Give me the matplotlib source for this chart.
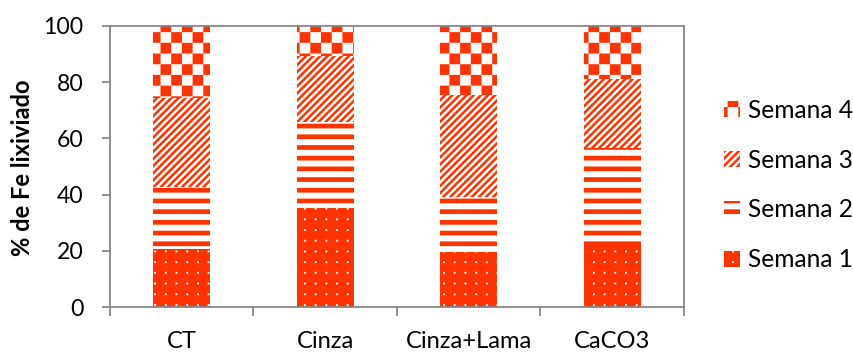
import numpy as np
import matplotlib
matplotlib.use('Agg')
import matplotlib.pyplot as plt
from matplotlib import hatch as mhatch
from matplotlib.path import Path
from matplotlib.patches import Patch

# ---------------- data ----------------
categories = ['CT', 'Cinza', 'Cinza+Lama', 'CaCO3']
series_names = ['Semana 1', 'Semana 2', 'Semana 3', 'Semana 4']
semana1 = [20.5, 35.1, 19.5, 22.1]
semana2 = [22.3, 30.9, 19.8, 34.6]
semana3 = [31.5, 23.4, 36.1, 24.3]
semana4 = [25.7, 10.6, 24.6, 19.0]
y_ticks = [0, 20, 40, 60, 80, 100]
y_label = '% de Fe lixiviado'

# ---------------- custom hatch patterns ----------------
DPI = 107
N = 10      # repeats per hatch tile (tile = DPI pixels)
M = 15      # diagonal stripes per tile


def _rect(x0, y0, x1, y1):
    return [(x0, y0), (x1, y0), (x1, y1), (x0, y1)]


class _PolyHatch(mhatch.HatchPatternBase):
    char = ''

    def __init__(self, hatch, density):
        self.polys = self.make() if (self.char and self.char in hatch) else []
        self.num_vertices = 5 * len(self.polys)

    def make(self):
        return []

    def set_vertices_and_codes(self, vertices, codes):
        for i, p in enumerate(self.polys):
            vertices[5 * i:5 * i + 4] = p
            vertices[5 * i + 4] = p[0]
            codes[5 * i] = Path.MOVETO
            codes[5 * i + 1:5 * i + 4] = Path.LINETO
            codes[5 * i + 4] = Path.CLOSEPOLY


class DotsHatch(_PolyHatch):
    char = '.'

    def make(self):
        s = 1.0 / N
        d = 0.018
        out = []
        for i in range(N):
            for j in range(N):
                cx, cy = (i + 0.5) * s, (j + 0.5) * s
                out.append(_rect(cx - d / 2, cy - d / 2, cx + d / 2, cy + d / 2))
        return out


class HStripeHatch(_PolyHatch):
    char = '-'

    def make(self):
        s = 1.0 / N
        t = 0.044
        return [_rect(0, j * s, 1, j * s + t) for j in range(N)]


class DiagHatch(_PolyHatch):
    char = '/'

    def make(self):
        w = 0.5 / M
        out = []
        for k in range(-M - 1, M + 1):
            c = k / M
            out.append([(0, c), (1, 1 + c), (1, 1 + c + w), (0, c + w)])
        return out


class CheckerHatch(_PolyHatch):
    char = 'x'

    def make(self):
        s = 1.0 / N
        return [_rect(i * s, j * s, (i + 1) * s, (j + 1) * s)
                for i in range(N) for j in range(N) if (i + j) % 2 == 0]


mhatch._hatch_types[:] = [DotsHatch, HStripeHatch, DiagHatch, CheckerHatch]

# ---------------- style ----------------
plt.rcParams['font.family'] = ['Lato', 'DejaVu Sans']
plt.rcParams['hatch.linewidth'] = 0.01
RED = '#FF3300'
AXC = '#868686'
styles = [dict(facecolor=RED, edgecolor='white', hatch='.'),
          dict(facecolor='white', edgecolor=RED, hatch='-'),
          dict(facecolor='white', edgecolor=RED, hatch='/'),
          dict(facecolor='white', edgecolor=RED, hatch='x')]

W, H = 853, 354
fig = plt.figure(figsize=(W / DPI, H / DPI), dpi=DPI)
ax = fig.add_axes([110 / W, 1 - 307 / H, (684 - 110) / W, (307 - 26) / H])

x = np.arange(len(categories))
data = [semana1, semana2, semana3, semana4]
bottom = np.zeros(len(categories))
for vals, name, st in zip(data, series_names, styles):
    ax.bar(x, vals, width=0.4, bottom=bottom, linewidth=0, label=name, **st)
    bottom += np.array(vals)

ax.set_xlim(-0.5, len(categories) - 0.5)
ax.set_ylim(0, 100)
ax.set_yticks(y_ticks)
ax.set_yticklabels([str(v) for v in y_ticks])
ax.set_xticks(np.arange(len(categories) + 1) - 0.5)
ax.set_xticklabels([])
ax.set_xticks(x, minor=True)
ax.set_xticklabels(categories, minor=True)

for sp in ax.spines.values():
    sp.set_color(AXC)
    sp.set_linewidth(1.2)

ax.tick_params(axis='y', which='major', direction='out', length=5.4, width=1.2,
               color=AXC, pad=12.5, labelsize=15.5, labelcolor='black')
ax.tick_params(axis='x', which='major', direction='out', length=6, width=1.2,
               color=AXC)
ax.tick_params(axis='x', which='minor', length=0, pad=16, labelsize=16,
               labelcolor='black')

fig.text(23 / W, 1 - 167.5 / H, y_label, rotation=90, ha='center', va='center',
         fontsize=16, fontweight='bold')

handles = [Patch(linewidth=0, **st) for st in styles]
leg = fig.legend(handles[::-1], series_names[::-1], loc='center left',
                 bbox_to_anchor=(724 / W, 1 - 185 / H), frameon=False,
                 fontsize=16.5, borderpad=0, borderaxespad=0,
                 handlelength=0.66, handleheight=0.6, handletextpad=0.3,
                 labelspacing=1.1)

fig.savefig('out.png', dpi=DPI)
